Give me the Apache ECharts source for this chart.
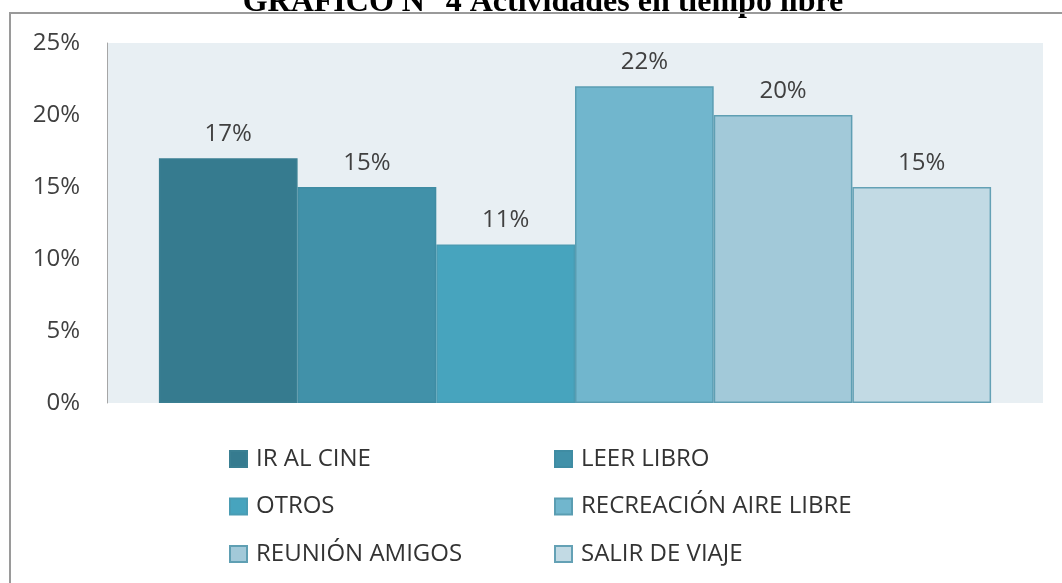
<!DOCTYPE html>
<html>
<head>
<meta charset="utf-8">
<script src="https://cdn.jsdelivr.net/npm/echarts@6/dist/echarts.min.js"></script>
<style>
  html, body { margin: 0; padding: 0; background: #fff; }
  #chart { width: 1062px; height: 583px; }
</style>
</head>
<body>
<div id="chart"></div>
<script>
const seriesNames = ['IR AL CINE', 'LEER LIBRO', 'OTROS', 'RECREACIÓN AIRE LIBRE', 'REUNIÓN AMIGOS', 'SALIR DE VIAJE']
const seriesValues = [0.17, 0.15, 0.11, 0.22, 0.20, 0.15]
const barColors = ['#367b8f', '#4191a9', '#47a4be', '#71b6cd', '#a2c9d9', '#c2dae4']
const borderColors = ['#3a7f92', '#3f8ca3', '#4a9cb3', '#5a9db2', '#5f9fb3', '#64a1b5']
const yTicks = [0, 0.05, 0.1, 0.15, 0.2, 0.25]

const chart = echarts.init(document.getElementById('chart'))

const pct = v => Math.round(v * 100) + '%'
const font = '"Open Sans", sans-serif'

const legendBase = {
  orient: 'vertical',
  top: 447,
  padding: 0,
  itemWidth: 17,
  itemHeight: 16,
  itemGap: 23.5,
  icon: 'rect',
  textStyle: { fontFamily: font, fontSize: 24, lineHeight: 24, color: '#333', padding: [0, 0, 0, 4] }
}

const option = {
  animation: false,
  grid: {
    left: 107,
    right: 19,
    top: 43,
    bottom: 180,
    show: true,
    backgroundColor: '#e8eff3',
    borderWidth: 0
  },
  legend: [
    { ...legendBase, left: 229, data: [seriesNames[0], seriesNames[2], seriesNames[4]] },
    { ...legendBase, left: 554, data: [seriesNames[1], seriesNames[3], seriesNames[5]] }
  ],
  xAxis: {
    type: 'category',
    data: [''],
    axisLine: { show: false },
    axisTick: { show: false },
    axisLabel: { show: false }
  },
  yAxis: {
    type: 'value',
    min: yTicks[0],
    max: yTicks[yTicks.length - 1],
    interval: 0.05,
    axisLine: { show: true, lineStyle: { color: '#a6a6a6', width: 1 } },
    axisTick: { show: false },
    splitLine: { show: false },
    axisLabel: {
      formatter: pct,
      fontFamily: font,
      fontSize: 24,
      color: '#404040',
      margin: 27
    }
  },
  series: seriesNames.map((name, i) => ({
    name,
    type: 'bar',
    data: [seriesValues[i]],
    barWidth: 138.7,
    barGap: '0%',
    itemStyle: {
      color: barColors[i],
      borderColor: borderColors[i],
      borderWidth: 1.5
    },
    label: {
      show: true,
      position: 'top',
      distance: 12,
      formatter: p => pct(p.value),
      fontFamily: font,
      fontSize: 24,
      color: '#404040'
    }
  })),
  graphic: [
    {
      type: 'text',
      z: 10,
      style: {
        text: 'GRÁFICO N° 4 Actividades en tiempo libre',
        x: 543,
        y: 19,
        textAlign: 'center',
        textVerticalAlign: 'bottom',
        font: 'bold 32px "Liberation Serif", serif',
        fill: '#000'
      }
    },
    {
      type: 'polyline',
      z: 11,
      shape: { points: [[10, 583], [10, 13], [1062, 13]] },
      style: { stroke: '#9a9a9a', lineWidth: 2, fill: null }
    }
  ]
}

chart.setOption(option)
window.addEventListener('resize', () => chart.resize())
</script>
</body>
</html>
